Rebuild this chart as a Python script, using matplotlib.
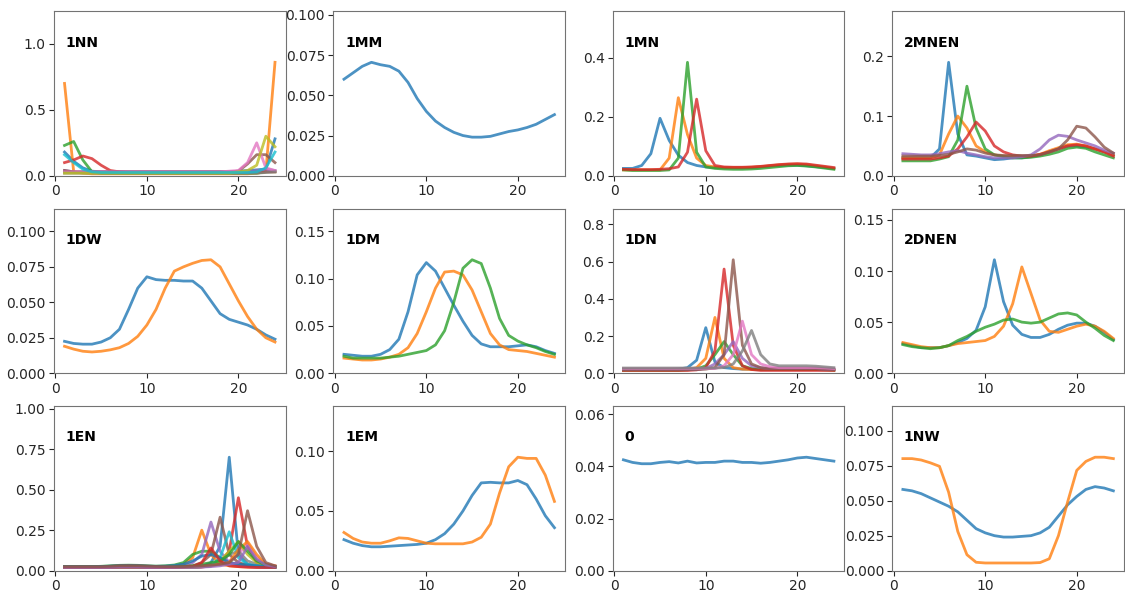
import matplotlib.pyplot as plt
from matplotlib.ticker import MultipleLocator

hours = list(range(1, 25))

# panel names in grid order (3 rows x 4 columns)
panel_names = ['1NN', '1MM', '1MN', '2MNEN',
               '1DW', '1DM', '1DN', '2DNEN',
               '1EN', '1EM', '0', '1NW']

# y tick step for each panel
ytick_steps = [0.5, 0.025, 0.2, 0.1,
               0.025, 0.05, 0.2, 0.05,
               0.25, 0.05, 0.02, 0.025]

# --- 1NN ---
nn_blue   = [0.18, 0.11, 0.06, 0.035, 0.03, 0.03, 0.03, 0.03, 0.03, 0.03, 0.03, 0.03, 0.03, 0.03, 0.03, 0.03, 0.03, 0.03, 0.03, 0.035, 0.04, 0.045, 0.05, 0.28]
nn_orange = [0.70, 0.03, 0.02, 0.015, 0.015, 0.015, 0.015, 0.015, 0.015, 0.015, 0.015, 0.015, 0.015, 0.015, 0.015, 0.015, 0.015, 0.015, 0.015, 0.015, 0.015, 0.02, 0.03, 0.86]
nn_green  = [0.23, 0.26, 0.12, 0.03, 0.02, 0.02, 0.02, 0.02, 0.02, 0.02, 0.02, 0.02, 0.02, 0.02, 0.02, 0.02, 0.02, 0.02, 0.02, 0.02, 0.02, 0.02, 0.03, 0.03]
nn_red    = [0.10, 0.12, 0.15, 0.13, 0.08, 0.04, 0.03, 0.025, 0.025, 0.025, 0.025, 0.025, 0.025, 0.025, 0.025, 0.025, 0.025, 0.025, 0.025, 0.025, 0.025, 0.03, 0.03, 0.03]
nn_purple = [0.04, 0.03, 0.03, 0.03, 0.03, 0.03, 0.03, 0.03, 0.03, 0.03, 0.03, 0.03, 0.03, 0.03, 0.03, 0.03, 0.03, 0.03, 0.03, 0.03, 0.03, 0.04, 0.05, 0.04]
nn_brown  = [0.04, 0.03, 0.03, 0.03, 0.03, 0.03, 0.03, 0.03, 0.03, 0.03, 0.03, 0.03, 0.03, 0.03, 0.03, 0.03, 0.03, 0.03, 0.03, 0.035, 0.09, 0.16, 0.16, 0.10]
nn_pink   = [0.03, 0.03, 0.03, 0.03, 0.03, 0.03, 0.03, 0.03, 0.03, 0.03, 0.03, 0.03, 0.03, 0.03, 0.03, 0.03, 0.03, 0.03, 0.035, 0.04, 0.10, 0.25, 0.06, 0.04]
nn_gray   = [0.02, 0.02, 0.02, 0.02, 0.02, 0.02, 0.02, 0.02, 0.02, 0.02, 0.02, 0.02, 0.02, 0.02, 0.02, 0.02, 0.02, 0.02, 0.02, 0.02, 0.02, 0.02, 0.025, 0.03]
nn_olive  = [0.02, 0.02, 0.02, 0.02, 0.02, 0.02, 0.02, 0.02, 0.02, 0.02, 0.02, 0.02, 0.02, 0.02, 0.02, 0.02, 0.02, 0.02, 0.02, 0.03, 0.04, 0.08, 0.30, 0.22]
nn_cyan   = [0.16, 0.10, 0.05, 0.03, 0.025, 0.025, 0.025, 0.025, 0.025, 0.025, 0.025, 0.025, 0.025, 0.025, 0.025, 0.025, 0.025, 0.025, 0.025, 0.025, 0.025, 0.03, 0.06, 0.18]

# --- 1MM ---
mm_blue = [0.060, 0.064, 0.068, 0.0705, 0.069, 0.068, 0.065, 0.058, 0.048, 0.040, 0.034, 0.030, 0.027, 0.025, 0.024, 0.024, 0.0245, 0.026, 0.0275, 0.0285, 0.030, 0.032, 0.035, 0.038]

# --- 1MN ---
mn_blue   = [0.025, 0.025, 0.035, 0.075, 0.195, 0.12, 0.07, 0.045, 0.035, 0.03, 0.028, 0.027, 0.027, 0.027, 0.028, 0.03, 0.033, 0.035, 0.036, 0.036, 0.034, 0.031, 0.028, 0.025]
mn_orange = [0.02, 0.02, 0.02, 0.02, 0.02, 0.06, 0.265, 0.14, 0.06, 0.035, 0.03, 0.028, 0.028, 0.028, 0.029, 0.031, 0.034, 0.037, 0.039, 0.04, 0.038, 0.034, 0.03, 0.025]
mn_green  = [0.02, 0.018, 0.018, 0.018, 0.018, 0.02, 0.06, 0.385, 0.08, 0.03, 0.025, 0.023, 0.022, 0.022, 0.023, 0.025, 0.028, 0.031, 0.034, 0.035, 0.033, 0.03, 0.026, 0.022]
mn_red    = [0.022, 0.021, 0.021, 0.021, 0.022, 0.024, 0.03, 0.08, 0.26, 0.085, 0.035, 0.03, 0.029, 0.029, 0.03, 0.032, 0.035, 0.038, 0.04, 0.041, 0.04, 0.036, 0.032, 0.028]

# --- 2MNEN ---
mnen_blue   = [0.030, 0.030, 0.030, 0.030, 0.045, 0.190, 0.070, 0.035, 0.033, 0.030, 0.027, 0.028, 0.030, 0.030, 0.032, 0.035, 0.040, 0.045, 0.050, 0.050, 0.048, 0.045, 0.040, 0.035]
mnen_orange = [0.030, 0.030, 0.030, 0.030, 0.035, 0.070, 0.100, 0.080, 0.050, 0.040, 0.035, 0.033, 0.032, 0.032, 0.033, 0.036, 0.042, 0.047, 0.052, 0.053, 0.050, 0.045, 0.040, 0.035]
mnen_green  = [0.025, 0.025, 0.025, 0.025, 0.028, 0.032, 0.060, 0.150, 0.080, 0.045, 0.035, 0.032, 0.030, 0.030, 0.031, 0.033, 0.036, 0.040, 0.046, 0.048, 0.046, 0.040, 0.035, 0.030]
mnen_red    = [0.028, 0.028, 0.028, 0.028, 0.030, 0.033, 0.045, 0.065, 0.090, 0.075, 0.050, 0.040, 0.035, 0.033, 0.033, 0.036, 0.040, 0.045, 0.050, 0.052, 0.050, 0.045, 0.040, 0.033]
mnen_purple = [0.037, 0.036, 0.035, 0.035, 0.037, 0.040, 0.042, 0.038, 0.035, 0.032, 0.030, 0.030, 0.030, 0.032, 0.035, 0.045, 0.060, 0.068, 0.066, 0.060, 0.055, 0.050, 0.043, 0.038]
mnen_brown  = [0.033, 0.033, 0.033, 0.033, 0.034, 0.036, 0.040, 0.045, 0.043, 0.038, 0.035, 0.034, 0.034, 0.034, 0.034, 0.035, 0.040, 0.045, 0.060, 0.083, 0.080, 0.065, 0.048, 0.038]

# --- 1DW ---
dw_blue   = [0.0225, 0.021, 0.0205, 0.0205, 0.022, 0.025, 0.031, 0.045, 0.060, 0.068, 0.066, 0.0655, 0.0655, 0.065, 0.065, 0.060, 0.051, 0.042, 0.038, 0.036, 0.034, 0.031, 0.027, 0.024]
dw_orange = [0.019, 0.017, 0.0155, 0.015, 0.0155, 0.0165, 0.018, 0.021, 0.026, 0.034, 0.045, 0.060, 0.072, 0.075, 0.0775, 0.0795, 0.080, 0.075, 0.063, 0.051, 0.040, 0.031, 0.025, 0.022]

# --- 1DM ---
dm_blue   = [0.020, 0.019, 0.018, 0.018, 0.020, 0.025, 0.036, 0.065, 0.104, 0.117, 0.108, 0.090, 0.072, 0.055, 0.040, 0.031, 0.028, 0.028, 0.028, 0.029, 0.030, 0.028, 0.024, 0.021]
dm_orange = [0.016, 0.015, 0.014, 0.014, 0.015, 0.017, 0.020, 0.027, 0.042, 0.065, 0.090, 0.107, 0.108, 0.104, 0.088, 0.065, 0.042, 0.030, 0.025, 0.024, 0.023, 0.021, 0.019, 0.017]
dm_green  = [0.018, 0.016, 0.016, 0.016, 0.016, 0.017, 0.018, 0.020, 0.022, 0.024, 0.030, 0.045, 0.075, 0.111, 0.120, 0.116, 0.090, 0.058, 0.040, 0.034, 0.030, 0.027, 0.023, 0.020]

# --- 1DN ---
dn_blue   = [0.02, 0.02, 0.02, 0.02, 0.02, 0.02, 0.022, 0.03, 0.07, 0.245, 0.06, 0.03, 0.025, 0.022, 0.022, 0.022, 0.022, 0.022, 0.022, 0.022, 0.022, 0.022, 0.02, 0.02]
dn_orange = [0.018, 0.018, 0.018, 0.018, 0.018, 0.018, 0.018, 0.02, 0.03, 0.08, 0.30, 0.08, 0.03, 0.022, 0.02, 0.02, 0.02, 0.02, 0.02, 0.02, 0.02, 0.02, 0.02, 0.018]
dn_green  = [0.015, 0.015, 0.015, 0.015, 0.015, 0.015, 0.015, 0.018, 0.022, 0.04, 0.10, 0.17, 0.10, 0.04, 0.025, 0.02, 0.02, 0.02, 0.02, 0.02, 0.02, 0.02, 0.018, 0.016]
dn_red    = [0.015, 0.015, 0.015, 0.015, 0.015, 0.015, 0.015, 0.015, 0.018, 0.03, 0.12, 0.56, 0.15, 0.04, 0.02, 0.015, 0.015, 0.015, 0.015, 0.015, 0.015, 0.015, 0.015, 0.015]
dn_purple = [0.02, 0.02, 0.02, 0.02, 0.02, 0.02, 0.02, 0.02, 0.02, 0.025, 0.05, 0.10, 0.17, 0.08, 0.04, 0.03, 0.025, 0.025, 0.025, 0.025, 0.025, 0.025, 0.022, 0.02]
dn_brown  = [0.02, 0.02, 0.02, 0.02, 0.02, 0.02, 0.02, 0.02, 0.02, 0.022, 0.03, 0.10, 0.61, 0.15, 0.05, 0.03, 0.025, 0.025, 0.025, 0.025, 0.025, 0.025, 0.022, 0.02]
dn_pink   = [0.025, 0.025, 0.025, 0.025, 0.025, 0.025, 0.025, 0.025, 0.025, 0.025, 0.025, 0.04, 0.10, 0.28, 0.10, 0.05, 0.035, 0.03, 0.03, 0.03, 0.03, 0.03, 0.028, 0.025]
dn_gray   = [0.028, 0.028, 0.028, 0.028, 0.028, 0.028, 0.028, 0.028, 0.028, 0.028, 0.028, 0.03, 0.05, 0.12, 0.23, 0.10, 0.05, 0.04, 0.04, 0.04, 0.04, 0.038, 0.034, 0.03]

# --- 2DNEN ---
dnen_blue   = [0.029, 0.027, 0.025, 0.025, 0.025, 0.027, 0.030, 0.034, 0.042, 0.065, 0.111, 0.070, 0.047, 0.038, 0.035, 0.035, 0.038, 0.043, 0.047, 0.049, 0.049, 0.046, 0.040, 0.033]
dnen_orange = [0.030, 0.028, 0.026, 0.025, 0.025, 0.027, 0.029, 0.030, 0.031, 0.032, 0.036, 0.046, 0.068, 0.104, 0.078, 0.052, 0.041, 0.040, 0.043, 0.046, 0.048, 0.046, 0.041, 0.034]
dnen_green  = [0.028, 0.026, 0.025, 0.024, 0.025, 0.027, 0.032, 0.036, 0.041, 0.045, 0.048, 0.052, 0.053, 0.050, 0.049, 0.050, 0.054, 0.058, 0.059, 0.057, 0.050, 0.044, 0.037, 0.032]

# --- 1EN ---
en_1  = [0.02, 0.02, 0.02, 0.02, 0.02, 0.02, 0.022, 0.022, 0.022, 0.02, 0.02, 0.02, 0.02, 0.02, 0.02, 0.025, 0.05, 0.15, 0.70, 0.10, 0.04, 0.025, 0.02, 0.02]
en_2  = [0.02, 0.02, 0.02, 0.02, 0.022, 0.025, 0.028, 0.028, 0.026, 0.024, 0.022, 0.022, 0.025, 0.04, 0.08, 0.25, 0.10, 0.04, 0.03, 0.025, 0.022, 0.02, 0.02, 0.02]
en_3  = [0.025, 0.025, 0.025, 0.025, 0.027, 0.03, 0.033, 0.034, 0.033, 0.03, 0.028, 0.03, 0.035, 0.05, 0.10, 0.12, 0.12, 0.08, 0.05, 0.04, 0.035, 0.03, 0.028, 0.025]
en_4  = [0.02, 0.02, 0.02, 0.02, 0.02, 0.02, 0.022, 0.022, 0.022, 0.02, 0.02, 0.02, 0.02, 0.02, 0.02, 0.022, 0.03, 0.05, 0.12, 0.45, 0.15, 0.05, 0.03, 0.025]
en_5  = [0.02, 0.02, 0.02, 0.02, 0.02, 0.022, 0.025, 0.025, 0.024, 0.022, 0.02, 0.02, 0.022, 0.03, 0.05, 0.10, 0.30, 0.12, 0.05, 0.03, 0.025, 0.022, 0.02, 0.02]
en_6  = [0.025, 0.025, 0.025, 0.025, 0.025, 0.027, 0.03, 0.032, 0.03, 0.028, 0.026, 0.025, 0.025, 0.027, 0.03, 0.05, 0.10, 0.33, 0.10, 0.05, 0.035, 0.03, 0.028, 0.025]
en_7  = [0.02, 0.02, 0.02, 0.02, 0.02, 0.02, 0.022, 0.022, 0.022, 0.02, 0.02, 0.02, 0.02, 0.02, 0.022, 0.025, 0.03, 0.04, 0.06, 0.10, 0.17, 0.08, 0.04, 0.03]
en_8  = [0.022, 0.022, 0.022, 0.022, 0.022, 0.022, 0.024, 0.024, 0.024, 0.022, 0.022, 0.022, 0.022, 0.022, 0.025, 0.03, 0.035, 0.05, 0.10, 0.12, 0.06, 0.04, 0.03, 0.025]
en_9  = [0.02, 0.02, 0.02, 0.02, 0.02, 0.02, 0.022, 0.022, 0.022, 0.02, 0.02, 0.02, 0.02, 0.02, 0.022, 0.025, 0.035, 0.06, 0.12, 0.18, 0.10, 0.05, 0.03, 0.025]
en_10 = [0.02, 0.02, 0.02, 0.02, 0.02, 0.02, 0.022, 0.022, 0.022, 0.02, 0.02, 0.02, 0.02, 0.02, 0.022, 0.025, 0.03, 0.08, 0.24, 0.08, 0.04, 0.03, 0.025, 0.02]
en_11 = [0.025, 0.025, 0.025, 0.025, 0.026, 0.028, 0.03, 0.03, 0.03, 0.028, 0.027, 0.028, 0.032, 0.04, 0.06, 0.09, 0.10, 0.08, 0.05, 0.04, 0.035, 0.03, 0.028, 0.025]
en_12 = [0.02, 0.02, 0.02, 0.02, 0.02, 0.02, 0.022, 0.022, 0.022, 0.02, 0.02, 0.02, 0.02, 0.02, 0.022, 0.025, 0.03, 0.04, 0.05, 0.13, 0.18, 0.10, 0.04, 0.03]
en_13 = [0.022, 0.022, 0.022, 0.022, 0.022, 0.022, 0.024, 0.024, 0.024, 0.022, 0.022, 0.022, 0.022, 0.025, 0.03, 0.04, 0.05, 0.06, 0.10, 0.18, 0.12, 0.06, 0.035, 0.025]
en_14 = [0.02, 0.02, 0.02, 0.02, 0.02, 0.02, 0.022, 0.022, 0.022, 0.02, 0.02, 0.02, 0.02, 0.022, 0.025, 0.05, 0.14, 0.06, 0.03, 0.025, 0.022, 0.02, 0.02, 0.02]
en_15 = [0.02, 0.02, 0.02, 0.02, 0.02, 0.02, 0.022, 0.022, 0.022, 0.02, 0.02, 0.02, 0.02, 0.02, 0.02, 0.022, 0.025, 0.03, 0.04, 0.05, 0.15, 0.07, 0.035, 0.025]
en_16 = [0.025, 0.025, 0.025, 0.025, 0.025, 0.027, 0.03, 0.03, 0.03, 0.028, 0.026, 0.025, 0.025, 0.025, 0.027, 0.03, 0.035, 0.04, 0.05, 0.10, 0.37, 0.15, 0.05, 0.03]

# --- 1EM ---
em_blue   = [0.026, 0.023, 0.021, 0.020, 0.020, 0.0205, 0.021, 0.0215, 0.022, 0.023, 0.026, 0.031, 0.039, 0.050, 0.063, 0.0735, 0.074, 0.0735, 0.0735, 0.0755, 0.072, 0.060, 0.046, 0.036]
em_orange = [0.032, 0.027, 0.024, 0.023, 0.023, 0.025, 0.0275, 0.027, 0.025, 0.023, 0.0225, 0.0225, 0.0225, 0.0225, 0.024, 0.028, 0.039, 0.065, 0.087, 0.095, 0.094, 0.094, 0.080, 0.058]

# --- 0 ---
zero_blue = [0.0425, 0.0415, 0.041, 0.041, 0.0415, 0.0418, 0.0413, 0.042, 0.0413, 0.0415, 0.0415, 0.042, 0.042, 0.0415, 0.0415, 0.0412, 0.0415, 0.042, 0.0425, 0.0432, 0.0435, 0.043, 0.0425, 0.042]

# --- 1NW ---
nw_blue   = [0.058, 0.057, 0.055, 0.052, 0.049, 0.046, 0.042, 0.036, 0.030, 0.027, 0.025, 0.024, 0.024, 0.0245, 0.025, 0.027, 0.031, 0.039, 0.047, 0.053, 0.058, 0.060, 0.059, 0.057]
nw_orange = [0.080, 0.080, 0.079, 0.077, 0.0745, 0.056, 0.028, 0.0114, 0.006, 0.0055, 0.0055, 0.0055, 0.0055, 0.0055, 0.0055, 0.0058, 0.0085, 0.025, 0.049, 0.0716, 0.078, 0.081, 0.081, 0.080]

panel_series = [
    [nn_blue, nn_orange, nn_green, nn_red, nn_purple, nn_brown, nn_pink, nn_gray, nn_olive, nn_cyan],
    [mm_blue],
    [mn_blue, mn_orange, mn_green, mn_red],
    [mnen_blue, mnen_orange, mnen_green, mnen_red, mnen_purple, mnen_brown],
    [dw_blue, dw_orange],
    [dm_blue, dm_orange, dm_green],
    [dn_blue, dn_orange, dn_green, dn_red, dn_purple, dn_brown, dn_pink, dn_gray],
    [dnen_blue, dnen_orange, dnen_green],
    [en_1, en_2, en_3, en_4, en_5, en_6, en_7, en_8, en_9, en_10,
     en_11, en_12, en_13, en_14, en_15, en_16],
    [em_blue, em_orange],
    [zero_blue],
    [nw_blue, nw_orange],
]

tab10 = plt.cm.tab10.colors

fig, axes = plt.subplots(3, 4, figsize=(11.25, 5.92), dpi=100)
fig.subplots_adjust(left=0.048, right=0.999, top=0.981, bottom=0.036,
                    wspace=0.207, hspace=0.2)

for ax, name, series, step in zip(axes.flat, panel_names, panel_series, ytick_steps):
    for i, s in enumerate(series):
        ax.plot(hours, s, color=tab10[i % 10], lw=2, alpha=0.8)
    top = max(max(s) for s in series)
    ax.set_ylim(0, top * 1.45)
    ax.yaxis.set_major_locator(MultipleLocator(step))
    ax.set_xticks([0, 10, 20])
    ax.text(0.05, 0.81, name, transform=ax.transAxes, fontsize=10,
            fontweight='bold', va='center', ha='left',
            bbox=dict(facecolor='white', edgecolor='none', alpha=0.7, pad=1))
    ax.tick_params(labelsize=10, colors='0.15', pad=2.5)
    for sp in ax.spines.values():
        sp.set_color('0.45')

fig.savefig('out.png')
